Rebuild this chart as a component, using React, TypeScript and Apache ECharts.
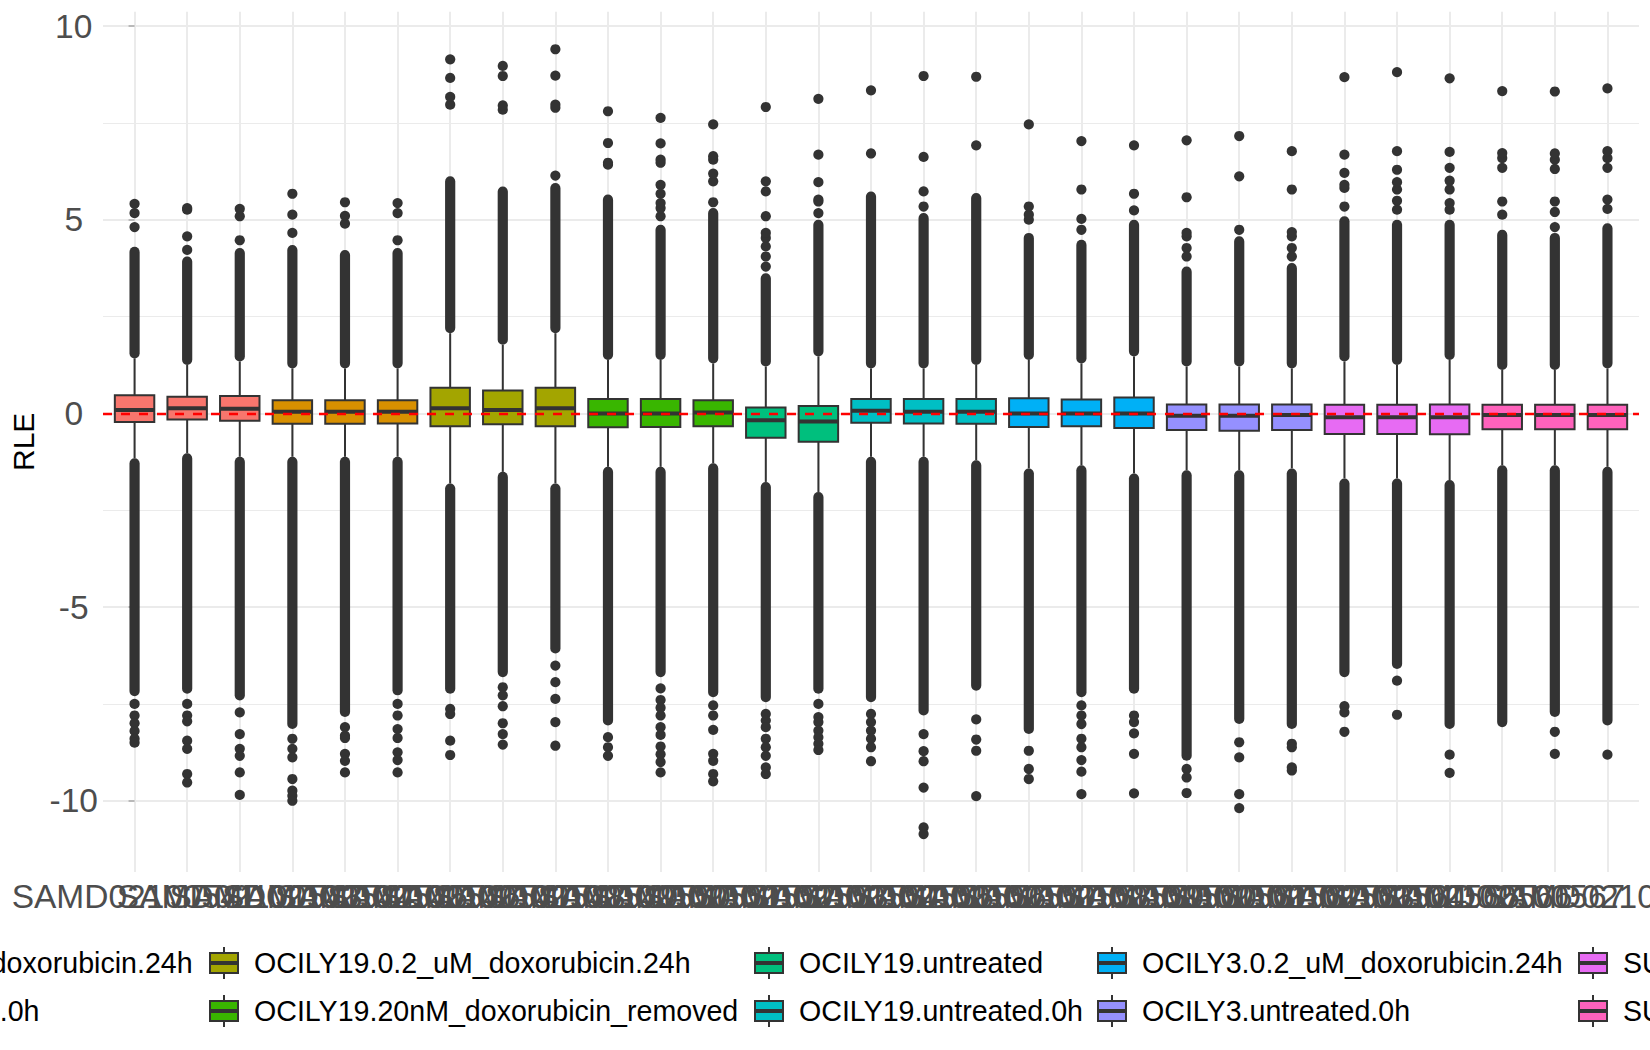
import { useEffect, useRef } from 'react'
import * as echarts from 'echarts'

// samples on the x axis, one box each
const sampleIds = [
    'SAMD02100541', 'SAMD02100542', 'SAMD02100543', 'SAMD02100544', 'SAMD02100545',
    'SAMD02100546', 'SAMD02100547', 'SAMD02100548', 'SAMD02100549', 'SAMD02100550',
    'SAMD02100551', 'SAMD02100552', 'SAMD02100553', 'SAMD02100554', 'SAMD02100555',
    'SAMD02100556', 'SAMD02100557', 'SAMD02100558', 'SAMD02100559', 'SAMD02100560',
    'SAMD02100561', 'SAMD02100562', 'SAMD02100563', 'SAMD02100564', 'SAMD02100565',
    'SAMD02100566', 'SAMD02100567', 'SAMD02100568', 'SAMD02100569'
]

const groupNames = [
    'HBL1.0.2_uM_doxorubicin.24h',
    'HBL1.untreated.0h',
    'OCILY19.0.2_uM_doxorubicin.24h',
    'OCILY19.20nM_doxorubicin_removed',
    'OCILY19.untreated',
    'OCILY19.untreated.0h',
    'OCILY3.0.2_uM_doxorubicin.24h',
    'OCILY3.untreated.0h',
    'SUDHL4.0.2_uM_doxorubicin.24h',
    'SUDHL4.untreated.0h'
]

const groupColors = [
    '#F8766D', '#D89000', '#A3A500', '#39B600', '#00BF7D',
    '#00BFC4', '#00B0F6', '#9590FF', '#E76BF3', '#FF62BC'
]

const sampleGroup = [0, 0, 0, 1, 1, 1, 2, 2, 2, 3, 3, 3, 4, 4, 5, 5, 5, 6, 6, 6, 7, 7, 7, 8, 8, 8, 9, 9, 9]

// box statistics
const whiskerLow = [-1.16, -1.03, -1.12, -1.12, -1.12, -1.12, -1.81, -1.51, -1.81, -1.38,
    -1.38, -1.29, -1.77, -2.03, -1.12, -1.12, -1.21, -1.42, -1.34, -1.55,
    -1.47, -1.47, -1.42, -1.68, -1.68, -1.72, -1.34, -1.34, -1.38]
const boxQ1 = [-0.22, -0.16, -0.19, -0.27, -0.27, -0.26, -0.33, -0.28, -0.33, -0.36,
    -0.35, -0.33, -0.63, -0.73, -0.24, -0.26, -0.27, -0.35, -0.33, -0.38,
    -0.43, -0.45, -0.43, -0.53, -0.53, -0.54, -0.41, -0.41, -0.41]
const boxMedian = [0.09, 0.13, 0.12, 0.04, 0.04, 0.04, 0.13, 0.09, 0.13, 0.0,
    0.0, 0.02, -0.18, -0.21, 0.07, 0.04, 0.04, 0.0, 0.0, 0.0,
    -0.06, -0.06, -0.04, -0.1, -0.1, -0.1, -0.04, -0.04, -0.04]
const boxQ3 = [0.47, 0.43, 0.45, 0.34, 0.34, 0.34, 0.66, 0.59, 0.66, 0.37,
    0.37, 0.34, 0.15, 0.19, 0.37, 0.37, 0.37, 0.39, 0.36, 0.41,
    0.23, 0.23, 0.23, 0.22, 0.22, 0.23, 0.22, 0.22, 0.22]
const whiskerHigh = [1.42, 1.25, 1.34, 1.16, 1.16, 1.16, 2.07, 1.77, 2.07, 1.38,
    1.38, 1.29, 1.21, 1.47, 1.16, 1.16, 1.25, 1.38, 1.29, 1.47,
    1.21, 1.21, 1.16, 1.34, 1.25, 1.38, 1.12, 1.12, 1.16]

// runs where outlier dots merge into a solid column [from, to]
const upperDense = [
    [1.42, 4.3], [1.25, 4.05], [1.34, 4.27], [1.16, 4.35], [1.16, 4.22], [1.16, 4.27],
    [2.07, 6.12], [1.77, 5.86], [2.07, 5.95], [1.38, 5.65], [1.38, 4.87], [1.29, 5.3],
    [1.21, 3.62], [1.47, 5.0], [1.16, 5.73], [1.16, 5.17], [1.25, 5.69], [1.38, 4.66],
    [1.29, 4.48], [1.47, 5.0], [1.21, 3.79], [1.21, 4.57], [1.16, 3.88], [1.34, 5.09],
    [1.25, 5.0], [1.38, 5.0], [1.12, 4.74], [1.12, 4.66], [1.16, 4.91]
]
const lowerDense = [
    [-1.16, -7.3], [-1.03, -7.24], [-1.12, -7.41], [-1.12, -8.15], [-1.12, -7.84], [-1.12, -7.28],
    [-1.81, -7.24], [-1.51, -6.81], [-1.81, -6.2], [-1.38, -8.06], [-1.38, -6.81], [-1.29, -7.33],
    [-1.77, -7.46], [-2.03, -7.24], [-1.12, -7.46], [-1.12, -7.8], [-1.21, -7.16], [-1.42, -8.28],
    [-1.34, -7.33], [-1.55, -7.24], [-1.47, -8.97], [-1.47, -8.02], [-1.42, -8.15], [-1.68, -6.81],
    [-1.68, -6.6], [-1.72, -8.15], [-1.34, -8.1], [-1.34, -7.84], [-1.38, -8.06]
]

// single outlier dots
const upperOutliers = [
    [4.81, 5.17, 5.41], [4.22, 4.57, 5.26, 5.3], [4.47, 5.09, 5.28], [4.66, 5.13, 5.67],
    [4.9, 5.1, 5.45], [4.47, 5.17, 5.43], [7.97, 8.17, 8.66, 9.14], [7.84, 7.95, 8.71, 8.97],
    [6.14, 7.89, 7.97, 8.72, 9.4], [6.42, 6.47, 6.98, 7.8],
    [5.09, 5.3, 5.43, 5.67, 5.9, 6.47, 6.55, 6.97, 7.63], [5.45, 5.99, 6.19, 6.55, 6.64, 7.46],
    [3.79, 4.05, 4.31, 4.53, 4.66, 5.09, 5.73, 5.99, 7.91], [5.17, 5.47, 5.52, 5.97, 6.68, 8.12],
    [6.71, 8.34], [5.34, 5.73, 6.62, 8.71], [6.92, 8.69], [5.0, 5.13, 5.34, 7.46],
    [4.74, 5.02, 5.78, 7.03], [5.24, 5.67, 6.92], [4.05, 4.27, 4.57, 4.66, 5.58, 7.05],
    [4.74, 6.12, 7.16], [4.05, 4.27, 4.57, 4.68, 5.78, 6.77], [5.34, 5.82, 5.9, 6.21, 6.68, 8.68],
    [5.26, 5.49, 5.78, 5.97, 6.29, 6.77, 8.81], [5.26, 5.43, 5.78, 6.01, 6.34, 6.75, 8.65],
    [5.13, 5.47, 6.34, 6.59, 6.72, 8.32], [4.81, 5.2, 5.47, 6.31, 6.55, 6.71, 8.31],
    [5.28, 5.52, 6.34, 6.59, 6.77, 8.39]
]
const lowerOutliers = [
    [-7.5, -7.8, -8.0, -8.2, -8.4, -8.5], [-7.5, -7.8, -7.95, -8.45, -8.66, -9.31, -9.53],
    [-7.72, -8.28, -8.66, -8.84, -9.27, -9.85], [-8.4, -8.66, -8.88, -9.44, -9.74, -9.87, -10.0],
    [-8.1, -8.32, -8.38, -8.79, -8.97, -9.27], [-7.5, -7.8, -8.15, -8.38, -8.75, -8.95, -9.27],
    [-7.63, -7.76, -8.45, -8.82], [-7.07, -7.28, -7.56, -8.0, -8.28, -8.55],
    [-6.51, -6.94, -7.37, -7.97, -8.58], [-8.36, -8.62, -8.84],
    [-7.1, -7.4, -7.6, -7.8, -8.1, -8.3, -8.6, -8.8, -9.0, -9.27],
    [-7.54, -7.8, -8.17, -8.79, -8.97, -9.31, -9.5],
    [-7.76, -7.93, -8.1, -8.4, -8.62, -8.84, -9.14, -9.31],
    [-7.5, -7.84, -7.97, -8.19, -8.36, -8.53, -8.69],
    [-7.76, -7.97, -8.19, -8.4, -8.62, -8.98], [-8.28, -8.72, -8.98, -9.66, -10.69, -10.86],
    [-7.9, -8.42, -8.71, -9.88], [-8.71, -9.18, -9.44],
    [-7.54, -7.8, -8.02, -8.4, -8.62, -8.95, -9.25, -9.83], [-7.8, -7.97, -8.26, -8.79, -9.81],
    [-9.18, -9.4, -9.8], [-8.49, -8.88, -9.83, -10.19], [-8.53, -8.62, -9.14, -9.22],
    [-7.56, -7.72, -8.22], [-6.9, -7.78], [-8.81, -9.28], [], [-8.22, -8.79], [-8.81]
]

const yTicks = [-10, -5, 0, 5, 10]
const yMinorTicks = [-7.5, -2.5, 2.5, 7.5]

const FONT = '"Liberation Sans", Arial, Helvetica, sans-serif'
const DARK = '#333333'
const GRID_COLOR = '#EBEBEB'
const DOT = 10.2

// legend layout (ggplot draws 5 columns x 2 rows)
const legendKeyX = [0, 210, 755, 1098, 1579]
const legendRowY = [962, 1010]
const legendFirstColTextEnd = [192.6, 39.5]
const legendIcon = 'path://M0,6L28,6L28,26L0,26Z M0,15L28,15 M0,17L28,17 M14,0L14,6 M14,26L14,32'

export default function App() {
    const chartRef = useRef<HTMLDivElement>(null)

    useEffect(() => {
        if (!chartRef.current) return
        const chart = echarts.init(chartRef.current, null, { renderer: 'svg' })
        const xIdx = sampleIds.map((_, i) => i)

        // one custom series per group: whiskers, box, thick median
        const boxSeries = groupNames.map((name, g) => ({
            name,
            type: 'custom',
            itemStyle: { color: groupColors[g], borderColor: DARK, borderWidth: 2 },
            encode: { x: 0, y: [1, 2, 3, 4, 5] },
            z: 3,
            data: xIdx
                .filter(i => sampleGroup[i] === g)
                .map(i => [i, whiskerLow[i], boxQ1[i], boxMedian[i], boxQ3[i], whiskerHigh[i]]),
            renderItem: (params: any, api: any) => {
                const x = api.value(0)
                const pLo = api.coord([x, api.value(1)])
                const pQ1 = api.coord([x, api.value(2)])
                const pMed = api.coord([x, api.value(3)])
                const pQ3 = api.coord([x, api.value(4)])
                const pHi = api.coord([x, api.value(5)])
                const half = api.size([0.75, 0])[0] / 2
                const cx = pMed[0]
                const line = { stroke: DARK, lineWidth: 2 }
                return {
                    type: 'group',
                    children: [
                        { type: 'line', shape: { x1: cx, y1: pQ3[1], x2: cx, y2: pHi[1] }, style: line },
                        { type: 'line', shape: { x1: cx, y1: pQ1[1], x2: cx, y2: pLo[1] }, style: line },
                        {
                            type: 'rect',
                            shape: { x: cx - half, y: pQ3[1], width: half * 2, height: pQ1[1] - pQ3[1] },
                            style: { fill: api.visual('color'), stroke: DARK, lineWidth: 2 }
                        },
                        {
                            type: 'line',
                            shape: { x1: cx - half, y1: pMed[1], x2: cx + half, y2: pMed[1] },
                            style: { stroke: DARK, lineWidth: 4 }
                        }
                    ]
                }
            }
        }))

        const denseData: number[][] = []
        xIdx.forEach(i => {
            denseData.push([i, upperDense[i][0], upperDense[i][1]])
            denseData.push([i, lowerDense[i][0], lowerDense[i][1]])
        })

        const outlierData: number[][] = []
        xIdx.forEach(i => {
            upperOutliers[i].forEach(v => outlierData.push([i, v]))
            lowerOutliers[i].forEach(v => outlierData.push([i, v]))
        })

        const gridLines = [
            ...yTicks.map(v => ({ yAxis: v, lineStyle: { width: 2 } })),
            ...yMinorTicks.map(v => ({ yAxis: v, lineStyle: { width: 1.1 } })),
            ...xIdx.map(i => ({ xAxis: i, lineStyle: { width: 2 } }))
        ]

        const legends = groupNames.map((name, g) => {
            const col = Math.floor(g / 2)
            const row = g % 2
            const pos = col === 0
                ? { right: 1650 - legendFirstColTextEnd[row] }
                : { left: legendKeyX[col] - 1 }
            return {
                data: [name],
                ...pos,
                top: legendRowY[row] - 16,
                padding: 0,
                icon: legendIcon,
                itemWidth: 50,
                itemHeight: 32,
                selectedMode: false,
                itemStyle: { borderColor: DARK, borderWidth: 2 },
                textStyle: { fontSize: 28.6, color: '#000000', fontFamily: FONT }
            }
        })

        chart.setOption({
            animation: false,
            textStyle: { fontFamily: FONT },
            grid: { left: 103, right: 11, top: 11.7, bottom: 178, outerBoundsMode: 'none' },
            legend: legends,
            xAxis: {
                type: 'value',
                min: -0.6,
                max: 28.6,
                axisLine: { show: false },
                splitLine: { show: false },
                axisTick: {
                    show: true,
                    customValues: xIdx,
                    length: 6,
                    lineStyle: { color: '#A8A8A8', width: 1.5 }
                },
                axisLabel: {
                    customValues: xIdx,
                    formatter: (v: number) => sampleIds[Math.round(v)] ?? '',
                    fontSize: 33.5,
                    color: '#4D4D4D',
                    margin: 7,
                    hideOverlap: false,
                    showMinLabel: true,
                    showMaxLabel: true
                }
            },
            yAxis: {
                type: 'value',
                min: -11.84,
                max: 10.37,
                name: 'RLE',
                nameLocation: 'middle',
                nameGap: 65,
                nameTextStyle: { fontSize: 30, color: '#000000', fontFamily: FONT },
                axisLine: { show: false },
                splitLine: { show: false },
                axisTick: {
                    show: true,
                    customValues: yTicks,
                    length: 6,
                    lineStyle: { color: '#A8A8A8', width: 1.5 }
                },
                axisLabel: {
                    customValues: yTicks,
                    fontSize: 33.5,
                    color: '#4D4D4D',
                    align: 'center',
                    margin: 29.3,
                    showMinLabel: true,
                    showMaxLabel: true
                }
            },
            series: [
                ...boxSeries,
                {
                    name: 'outlier runs',
                    type: 'custom',
                    z: 4,
                    encode: { x: 0, y: [1, 2] },
                    data: denseData,
                    renderItem: (params: any, api: any) => {
                        const x = api.value(0)
                        const a = api.coord([x, api.value(1)])
                        const b = api.coord([x, api.value(2)])
                        return {
                            type: 'rect',
                            shape: {
                                x: a[0] - DOT / 2,
                                y: Math.min(a[1], b[1]),
                                width: DOT,
                                height: Math.abs(a[1] - b[1]),
                                r: DOT / 2
                            },
                            style: { fill: DARK }
                        }
                    },
                    markLine: {
                        silent: true,
                        z: 0,
                        symbol: ['none', 'none'],
                        label: { show: false },
                        lineStyle: { color: GRID_COLOR, type: 'solid' },
                        emphasis: { disabled: true },
                        data: gridLines
                    }
                },
                {
                    name: 'outliers',
                    type: 'scatter',
                    z: 4,
                    symbolSize: DOT,
                    itemStyle: { color: DARK, opacity: 1 },
                    data: outlierData,
                    markLine: {
                        silent: true,
                        z: 10,
                        symbol: ['none', 'none'],
                        label: { show: false },
                        emphasis: { disabled: true },
                        lineStyle: { color: '#FF0000', type: [9, 9], width: 2.4 },
                        data: [{ yAxis: 0 }]
                    }
                }
            ]
        })

        return () => {
            chart.dispose()
        }
    }, [])

    return (
        <div
            ref={chartRef}
            style={{ position: 'absolute', left: 0, top: 0, width: 1650, height: 1050, background: '#ffffff' }}
        />
    )
}
